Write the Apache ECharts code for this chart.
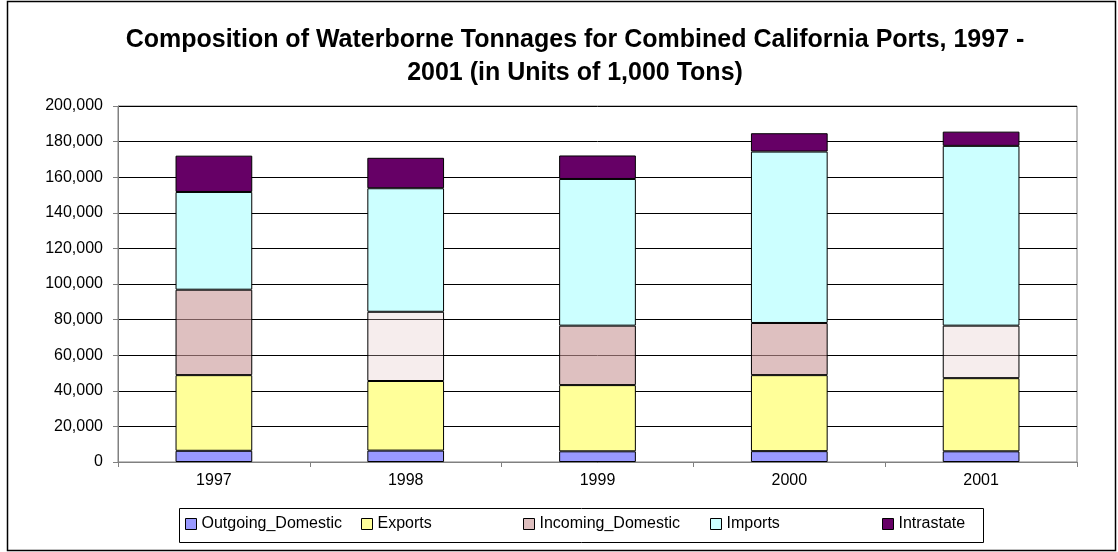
<!DOCTYPE html>
<html>
<head>
<meta charset="utf-8">
<script src="https://cdn.jsdelivr.net/npm/echarts@6/dist/echarts.min.js"></script>
<style>
html,body{margin:0;padding:0;background:#fff;}
#chart{width:1118px;height:552px;}
</style>
</head>
<body>
<div id="chart"></div>
<script>
const years = ['1997', '1998', '1999', '2000', '2001'];
const outgoingDomestic = [6300, 6400, 6000, 6100, 6000];
const exportsT = [42500, 39100, 37200, 42700, 41100];
const incomingDomestic = [48000, 38900, 33400, 29300, 29500];
const importsT = [54900, 69400, 82400, 96300, 101000];
const intrastate = [20400, 17100, 13200, 10300, 8000];
const yTicks = [0, 20000, 40000, 60000, 80000, 100000, 120000, 140000, 160000, 180000, 200000];

const FONT = 'Liberation Sans, Arial, sans-serif';
const chart = echarts.init(document.getElementById('chart'), null, {renderer: 'canvas'});

const lightIdx = [1, 4];
const incomingData = incomingDomestic.map((v, i) => ({
  value: v,
  itemStyle: lightIdx.indexOf(i) >= 0
    ? {color: 'rgba(225,195,195,0.3)'}
    : {color: 'rgba(200,150,150,0.6)'}
}));

function mk(name, data, color) {
  return {
    name: name, type: 'bar', stack: 'total', data: data, barWidth: '40%',
    itemStyle: {color: color, borderColor: '#000', borderWidth: 1},
    emphasis: {disabled: true}
  };
}

const legendItems = [
  {name: 'Outgoing_Domestic', left: 185},
  {name: 'Exports', left: 361},
  {name: 'Incoming_Domestic', left: 523},
  {name: 'Imports', left: 710},
  {name: 'Intrastate', left: 882}
];

chart.setOption({
  animation: false,
  backgroundColor: '#fff',
  title: {
    text: 'Composition of Waterborne Tonnages for Combined California Ports, 1997 -\n2001 (in Units of 1,000 Tons)',
    left: 575, textAlign: 'center', top: 24, padding: 0,
    textStyle: {fontFamily: FONT, fontWeight: 'bold', fontSize: 25, color: '#000', lineHeight: 33}
  },
  legend: legendItems.map(it => ({
    data: [it.name], left: it.left, top: 516, padding: 0, itemWidth: 11, itemHeight: 11, itemGap: 5,
    icon: 'rect', selectedMode: false,
    textStyle: {fontFamily: FONT, fontSize: 16, color: '#000'},
    itemStyle: {borderColor: '#000', borderWidth: 1}
  })),
  grid: {left: 118, right: 41, top: 106, bottom: 90, show: true, borderColor: '#808080', borderWidth: 1, backgroundColor: 'transparent'},
  xAxis: {
    type: 'category', data: years,
    axisLine: {lineStyle: {color: '#808080'}},
    axisTick: {show: true, alignWithLabel: false, length: 5, lineStyle: {color: '#808080'}},
    axisLabel: {fontFamily: FONT, fontSize: 16, color: '#000', margin: 11}
  },
  yAxis: {
    type: 'value', min: yTicks[0], max: yTicks[yTicks.length - 1], interval: yTicks[1] - yTicks[0],
    axisLine: {show: true, lineStyle: {color: '#808080'}},
    axisTick: {show: true, inside: false, length: 5, lineStyle: {color: '#808080'}},
    splitLine: {lineStyle: {color: '#000', width: 1}},
    axisLabel: {fontFamily: FONT, fontSize: 16, color: '#000', margin: 15,
      formatter: v => v.toLocaleString('en-US')}
  },
  series: [
    mk('Outgoing_Domestic', outgoingDomestic, '#9999FF'),
    mk('Exports', exportsT, '#FFFF99'),
    mk('Incoming_Domestic', incomingData, '#DDBEBE'),
    mk('Imports', importsT, '#CCFFFF'),
    mk('Intrastate', intrastate, '#660066')
  ],
  graphic: [
    {type: 'rect', shape: {x: 7.5, y: 1.5, width: 1108, height: 549}, style: {fill: 'none', stroke: '#000', lineWidth: 1.5}, silent: true},
    {type: 'rect', shape: {x: 179.5, y: 508.5, width: 804, height: 34}, style: {fill: 'none', stroke: '#000', lineWidth: 1}, silent: true}
  ]
});
</script>
</body>
</html>
